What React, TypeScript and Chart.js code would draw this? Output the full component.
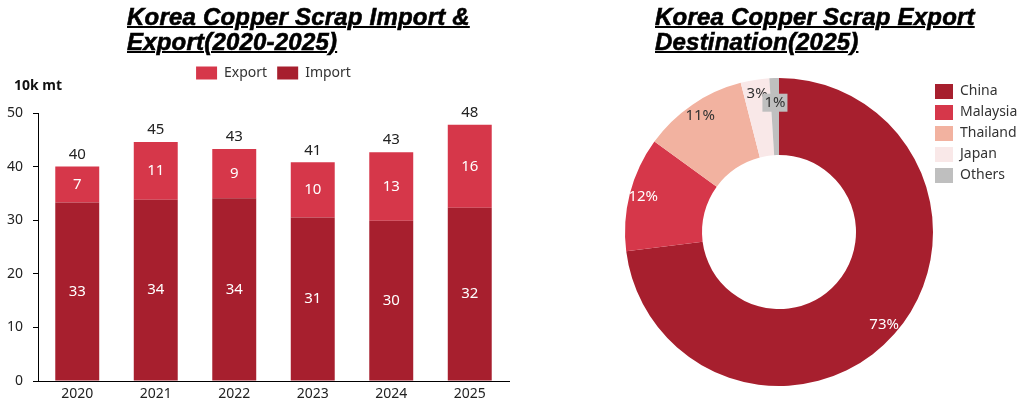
import React, { useEffect, useRef } from 'react';
import Chart from 'chart.js/auto';

Chart.defaults.font.family = '"Noto Sans", "Open Sans", sans-serif';
Chart.defaults.font.size = 14;
Chart.defaults.color = '#222';

// bar chart data (10k mt)
const years = ['2020', '2021', '2022', '2023', '2024', '2025'];
const importValues = [33.3, 33.8, 34.1, 30.5, 29.9, 32.3];
const exportValues = [6.7, 10.8, 9.2, 10.3, 12.8, 15.5];
const yTicks = [0, 10, 20, 30, 40, 50];

// doughnut data (%)
const destinations = ['China', 'Malaysia', 'Thailand', 'Japan', 'Others'];
const destinationShares = [73, 12, 11, 3, 1];

const IMPORT_COLOR = '#A71F2E';
const EXPORT_COLOR = '#D6374A';
const destColors = ['#A71F2E', '#D6374A', '#F2B2A0', '#F9E8E8', '#BFBFBF'];
const destLabelColors = ['#fff', '#fff', '#333', '#333', '#333'];
const destLabelRadius = [0.82, 0.82, 0.82, 0.82, 0.68];

// forces the legend box to a fixed size so the plot area lands where it should
const legendSize = (width?: number, height?: number) => ({
  id: 'legendSize',
  beforeInit(chart: any) {
    const legend = chart.legend;
    if (!legend) return;
    const fit = legend.fit;
    legend.fit = function () {
      fit.call(this);
      if (width) this.width = width;
      if (height) this.height = height;
    };
  },
});

const barLabels = {
  id: 'barLabels',
  afterDatasetsDraw(chart: any) {
    const { ctx, chartArea } = chart;
    ctx.save();
    ctx.font = '15px "Noto Sans"';
    ctx.textAlign = 'center';
    ctx.textBaseline = 'middle';
    chart.data.datasets.forEach((ds: any, di: number) => {
      const meta = chart.getDatasetMeta(di);
      meta.data.forEach((bar: any, i: number) => {
        ctx.fillStyle = '#fff';
        ctx.fillText(String(Math.round(ds.data[i])), bar.x, (bar.y + bar.base) / 2);
      });
    });
    const topMeta = chart.getDatasetMeta(chart.data.datasets.length - 1);
    topMeta.data.forEach((bar: any, i: number) => {
      ctx.fillStyle = '#222';
      ctx.fillText(String(Math.round(importValues[i] + exportValues[i])), bar.x, bar.y - 12);
    });
    ctx.font = 'bold 14px "Noto Sans"';
    ctx.textAlign = 'left';
    ctx.fillStyle = '#111';
    ctx.fillText('10k mt', chartArea.left - 24, chartArea.top - 27);
    ctx.restore();
  },
};

const sliceLabels = {
  id: 'sliceLabels',
  afterDatasetsDraw(chart: any) {
    const { ctx } = chart;
    const meta = chart.getDatasetMeta(0);
    ctx.save();
    ctx.font = '15px "Noto Sans"';
    ctx.textAlign = 'center';
    ctx.textBaseline = 'middle';
    meta.data.forEach((arc: any, i: number) => {
      const mid = (arc.startAngle + arc.endAngle) / 2;
      const r = arc.innerRadius + (arc.outerRadius - arc.innerRadius) * destLabelRadius[i];
      const x = arc.x + Math.cos(mid) * r;
      const y = arc.y + Math.sin(mid) * r;
      const text = destinationShares[i] + '%';
      if (i === destinationShares.length - 1) {
        const w = ctx.measureText(text).width + 4;
        ctx.fillStyle = destColors[i];
        ctx.fillRect(x - w / 2, y - 9, w, 18);
      }
      ctx.fillStyle = destLabelColors[i];
      ctx.fillText(text, x, y);
    });
    ctx.restore();
  },
};

const ImportExportChart: React.FC = () => {
  const ref = useRef<HTMLCanvasElement>(null);

  useEffect(() => {
    if (!ref.current) return;
    const chart = new Chart(ref.current, {
      type: 'bar',
      data: {
        labels: years,
        datasets: [
          { label: 'Import', data: importValues, backgroundColor: IMPORT_COLOR },
          { label: 'Export', data: exportValues, backgroundColor: EXPORT_COLOR },
        ],
      },
      options: {
        animation: false,
        responsive: true,
        maintainAspectRatio: false,
        events: [],
        layout: { padding: { top: 56, left: 0, right: 3, bottom: 0 } },
        datasets: { bar: { barPercentage: 0.56, categoryPercentage: 1 } },
        plugins: {
          legend: {
            position: 'top',
            fullSize: false,
            reverse: true,
            labels: { boxWidth: 21, boxHeight: 13, padding: 10, color: '#333' },
          },
          tooltip: { enabled: false },
        },
        scales: {
          x: {
            stacked: true,
            grid: { display: false, drawTicks: false },
            border: { display: true, color: '#000', width: 1 },
            ticks: { padding: 5, color: '#222' },
            afterFit: (s: any) => { s.height = 28; },
          },
          y: {
            stacked: true,
            min: 0,
            max: 50,
            grid: { drawOnChartArea: false, drawTicks: true, tickLength: 5, color: '#000' },
            border: { display: true, color: '#000', width: 1 },
            ticks: { padding: 10, color: '#222' },
            afterBuildTicks: (s: any) => { s.ticks = yTicks.map((v) => ({ value: v })); },
            afterFit: (s: any) => { s.width = 38; },
          },
        },
      },
      plugins: [legendSize(undefined, 57), barLabels],
    });
    return () => chart.destroy();
  }, []);

  return <canvas ref={ref} />;
};

const DestinationChart: React.FC = () => {
  const ref = useRef<HTMLCanvasElement>(null);

  useEffect(() => {
    if (!ref.current) return;
    const chart = new Chart(ref.current, {
      type: 'doughnut',
      data: {
        labels: destinations,
        datasets: [{ data: destinationShares, backgroundColor: destColors, borderWidth: 0 }],
      },
      options: {
        animation: false,
        responsive: true,
        maintainAspectRatio: false,
        events: [],
        radius: 154,
        cutout: '50%',
        layout: { padding: { top: 78, left: 117, right: 0, bottom: 23 } },
        plugins: {
          legend: {
            position: 'right',
            align: 'start',
            labels: { boxWidth: 18, boxHeight: 15, padding: 6, color: '#333' },
          },
          tooltip: { enabled: false },
        },
      } as any,
      plugins: [legendSize(95, undefined), sliceLabels],
    });
    return () => chart.destroy();
  }, []);

  return <canvas ref={ref} />;
};

const titleStyle: React.CSSProperties = {
  position: 'absolute',
  top: 4,
  margin: 0,
  fontFamily: '"Liberation Sans", Arial, sans-serif',
  fontWeight: 'bold',
  fontStyle: 'italic',
  fontSize: 24,
  lineHeight: '25px',
  textDecoration: 'underline',
  textDecorationThickness: 2,
  WebkitTextStroke: '0.6px #000',
  letterSpacing: 0.2,
  color: '#000',
  whiteSpace: 'nowrap',
  zIndex: 2,
};

const App: React.FC = () => (
  <div style={{ position: 'absolute', left: 0, top: 0, width: 1024, height: 409, background: '#fff', overflow: 'hidden' }}>
    <div style={{ position: 'absolute', left: 0, top: 0, width: 512, height: 409 }}>
      <ImportExportChart />
    </div>
    <div style={{ position: 'absolute', left: 512, top: 0, width: 512, height: 409 }}>
      <DestinationChart />
    </div>
    <div style={{ ...titleStyle, left: 127 }}>
      Korea Copper Scrap Import &amp;<br />Export(2020-2025)
    </div>
    <div style={{ ...titleStyle, left: 655 }}>
      Korea Copper Scrap Export<br />Destination(2025)
    </div>
  </div>
);

export default App;
